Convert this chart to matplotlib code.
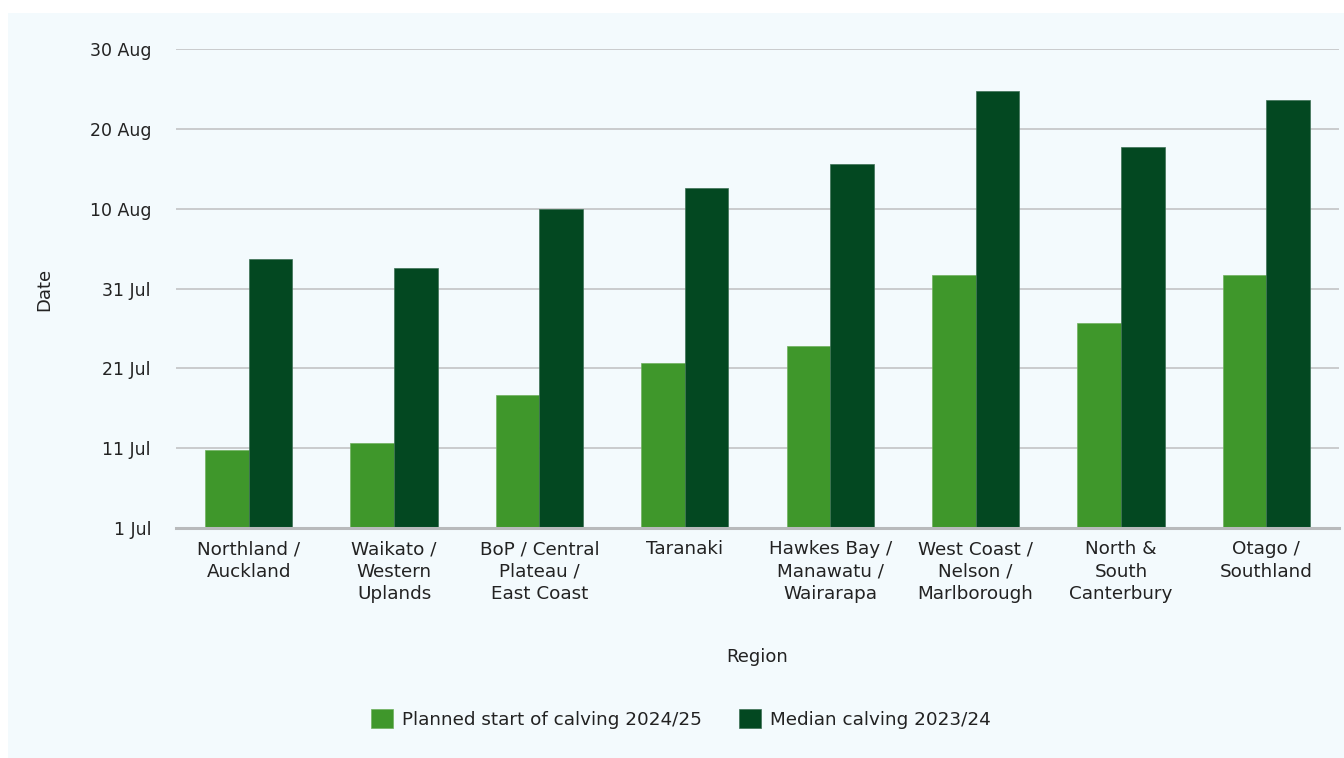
import numpy as np
import matplotlib.pyplot as plt
from matplotlib.patches import Rectangle

plt.rcParams['font.family'] = ['DejaVu Sans']

# regions and days after 1 Jul
regions = ['Northland /\nAuckland', 'Waikato /\nWestern\nUplands', 'BoP / Central\nPlateau /\nEast Coast',
           'Taranaki', 'Hawkes Bay /\nManawatu /\nWairarapa', 'West Coast /\nNelson /\nMarlborough',
           'North &\nSouth\nCanterbury', 'Otago /\nSouthland']
planned = [9.8, 10.7, 16.7, 20.7, 22.8, 31.7, 25.7, 31.7]
median = [33.7, 32.6, 39.9, 42.6, 45.6, 54.7, 47.7, 53.6]
tick_days = [0, 10, 20, 30, 40, 50, 60]
tick_labels = ['1 Jul', '11 Jul', '21 Jul', '31 Jul', '10 Aug', '20 Aug', '30 Aug']

c_planned = '#3f972b'
c_median = '#034821'

fig = plt.figure(figsize=(13.44, 7.58), dpi=100)
fig.patches.append(Rectangle((8/1344, 0), 1, 1 - 13/758, transform=fig.transFigure,
                             facecolor='#f3fafd', edgecolor='none', zorder=-10))
ax = fig.add_axes([176/1344, 1 - 528/758, (1339 - 176)/1344, (528 - 49)/758])
ax.set_facecolor('none')

x = np.arange(len(regions))
w = 0.30
ax.bar(x - w/2, planned, w, color=c_planned, edgecolor='#6fb05e', linewidth=0.5,
       label='Planned start of calving 2024/25', zorder=3)
ax.bar(x + w/2, median, w, color=c_median, edgecolor='#3d7055', linewidth=0.5,
       label='Median calving 2023/24', zorder=3)

ax.set_xlim(-0.5, len(regions) - 0.5)
ax.set_ylim(0, 60)
ax.set_yticks(tick_days)
ax.set_yticklabels(tick_labels, fontsize=12.5, color='#222222')
ax.set_xticks(x)
ax.set_xticklabels(regions, fontsize=13.2, color='#222222', linespacing=1.32)
ax.tick_params(axis='y', length=0, pad=18)
ax.tick_params(axis='x', length=0, pad=9)
ax.grid(axis='y', color='#c6c8ca', linewidth=1.3, zorder=0)
for s in ['top', 'right', 'left']:
    ax.spines[s].set_visible(False)
ax.spines['bottom'].set_color('#b8babc')
ax.spines['bottom'].set_linewidth(2.2)
ax.spines['bottom'].set_zorder(4)

fig.text(44/1344, 1 - 289/758, 'Date', rotation=90, ha='center', va='center',
         fontsize=13, color='#222222')
fig.text(757/1344, 1 - 657/758, 'Region', ha='center', va='center',
         fontsize=13, color='#222222')

fig.legend(loc='center', bbox_to_anchor=(681/1344, 1 - 719/758), ncol=2, frameon=False,
           fontsize=13.2, handlelength=1.2, handleheight=1.2, handletextpad=0.5,
           columnspacing=2.0, labelcolor='#222222')

plt.savefig('out.png', dpi=100)
